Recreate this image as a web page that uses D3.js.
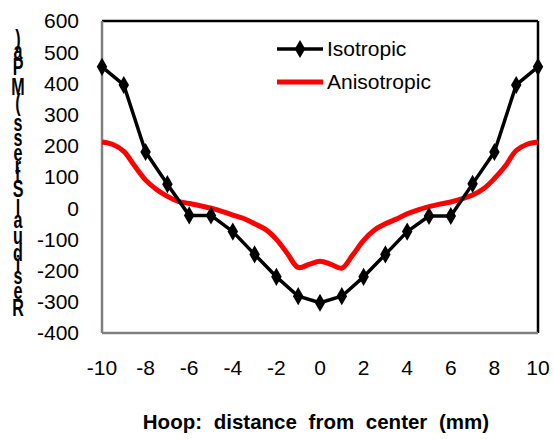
<!DOCTYPE html>
<html>
<head>
<meta charset="utf-8">
<script src="https://cdn.jsdelivr.net/npm/d3@7/dist/d3.min.js"></script>
<style>
  html, body { margin: 0; padding: 0; background: #fff; }
  text { font-family: "Liberation Sans", Arial, sans-serif; }
</style>
</head>
<body>
<div class="chart"></div>
<script>
// isotropic: measured points every 1 mm
const isoX = [-10, -9, -8, -7, -6, -5, -4, -3, -2, -1, 0, 1, 2, 3, 4, 5, 6, 7, 8, 9, 10];
const isoY = [453, 395, 180, 77, -23, -23, -75, -148, -220, -282, -303, -282, -220, -148, -75, -25, -25, 78, 180, 395, 453];

// anisotropic: smooth curve, read every 0.5 mm
const aniX = [-10, -9.5, -9, -8.5, -8, -7.5, -7, -6.5, -6, -5.5, -5, -4.5, -4, -3.5, -3, -2.5, -2, -1.5, -1, -0.5,
              0, 0.5, 1, 1.5, 2, 2.5, 3, 3.5, 4, 4.5, 5, 5.5, 6, 6.5, 7, 7.5, 8, 8.5, 9, 9.5, 10];
const aniY = [212, 204, 182, 135, 90, 60, 38, 22, 15, 8, 0, -10, -22, -33, -50, -68, -100, -145, -190, -180,
              -170, -180, -192, -150, -103, -70, -50, -35, -18, -5, 5, 13, 20, 30, 42, 62, 95, 135, 185, 205, 212];

const xTicks = [-10, -8, -6, -4, -2, 0, 2, 4, 6, 8, 10];
const yTicks = [-400, -300, -200, -100, 0, 100, 200, 300, 400, 500, 600];
const seriesNames = ["Isotropic", "Anisotropic"];
const xTitle = "Hoop: distance from center (mm)";
const yTitle = "Residual Stress (MPa)";

const W = 554, H = 439;
const m = { left: 102, right: 16, top: 21, bottom: 106 };

const svg = d3.select(".chart").append("svg")
    .attr("width", W)
    .attr("height", H);

const x = d3.scaleLinear().domain([-10, 10]).range([m.left, W - m.right]);
const y = d3.scaleLinear().domain([-400, 600]).range([H - m.bottom, m.top]);

// frame: top/right black, left/bottom gray
svg.append("line")
    .attr("x1", x(-10)).attr("x2", x(10))
    .attr("y1", y(600)).attr("y2", y(600))
    .attr("stroke", "#000").attr("stroke-width", 2.5);
svg.append("line")
    .attr("x1", x(10)).attr("x2", x(10))
    .attr("y1", y(600)).attr("y2", y(-400))
    .attr("stroke", "#000").attr("stroke-width", 2.5);
svg.append("line")
    .attr("x1", x(-10)).attr("x2", x(-10))
    .attr("y1", y(600)).attr("y2", y(-400))
    .attr("stroke", "#808080").attr("stroke-width", 2.5);
svg.append("line")
    .attr("x1", x(-10)).attr("x2", x(10))
    .attr("y1", y(-400)).attr("y2", y(-400))
    .attr("stroke", "#808080").attr("stroke-width", 2.5);

// tick labels
svg.append("g")
    .selectAll("text")
    .data(yTicks)
    .enter()
    .append("text")
    .attr("x", 79)
    .attr("y", d => y(d))
    .attr("dy", "0.35em")
    .attr("text-anchor", "end")
    .attr("font-size", 21)
    .text(d => d);

svg.append("g")
    .selectAll("text")
    .data(xTicks)
    .enter()
    .append("text")
    .attr("x", d => x(d))
    .attr("y", 375)
    .attr("text-anchor", "middle")
    .attr("font-size", 21)
    .text(d => d);

// x title
svg.append("text")
    .attr("x", 316)
    .attr("y", 429)
    .attr("text-anchor", "middle")
    .attr("font-size", 20.5)
    .attr("font-weight", "bold")
    .attr("word-spacing", 6)
    .text(xTitle);

// y title: upright glyphs stacked bottom to top, one text element
const meas = svg.append("text")
    .attr("font-size", 27)
    .attr("font-weight", "bold")
    .attr("visibility", "hidden");
let pos = 0;
const glyphs = yTitle.split("").map(ch => {
    meas.text(ch === " " ? "\u00a0" : ch);
    const w = meas.node().getComputedTextLength();
    const g = { ch: ch, c: pos + w / 2 };
    pos += w;
    return g;
}).filter(g => g.ch !== " ");
meas.remove();
const yBottom = 318;
svg.append("text")
    .attr("transform", "translate(18,0) scale(0.7,1)")
    .attr("x", glyphs.map(() => 0).join(" "))
    .attr("y", glyphs.map(g => (yBottom - g.c + 8).toFixed(1)).join(" "))
    .attr("text-anchor", "middle")
    .attr("font-size", 23)
    .attr("font-weight", "bold")
    .text(glyphs.map(g => g.ch).join(""));

// series
const iso = isoX.map((v, i) => [v, isoY[i]]);
const ani = aniX.map((v, i) => [v, aniY[i]]);

svg.append("path")
    .datum(ani)
    .attr("fill", "none")
    .attr("stroke", "#ff0000")
    .attr("stroke-width", 5)
    .attr("stroke-linejoin", "round")
    .attr("d", d3.line().x(d => x(d[0])).y(d => y(d[1])).curve(d3.curveCatmullRom.alpha(0.5)));

svg.append("path")
    .datum(iso)
    .attr("fill", "none")
    .attr("stroke", "#000")
    .attr("stroke-width", 3.5)
    .attr("stroke-linejoin", "round")
    .attr("d", d3.line().x(d => x(d[0])).y(d => y(d[1])));

const diamond = d3.symbol().type(d3.symbolDiamond).size(95);
svg.append("g")
    .selectAll("path")
    .data(iso)
    .enter()
    .append("path")
    .attr("transform", d => "translate(" + x(d[0]) + "," + y(d[1]) + ")")
    .attr("d", diamond)
    .attr("fill", "#000");

// legend
const legend = svg.append("g")
    .selectAll("g")
    .data(seriesNames)
    .enter()
    .append("g")
    .attr("transform", (d, i) => "translate(277," + (49 + i * 33) + ")");
legend.append("line")
    .attr("x1", 0).attr("x2", 46)
    .attr("stroke", (d, i) => i === 0 ? "#000" : "#ff0000")
    .attr("stroke-width", (d, i) => i === 0 ? 3.5 : 5);
legend.filter((d, i) => i === 0)
    .append("path")
    .attr("transform", "translate(23,0)")
    .attr("d", diamond)
    .attr("fill", "#000");
legend.append("text")
    .attr("x", 50)
    .attr("dy", "0.35em")
    .attr("font-size", 21)
    .text(d => d);
</script>
</body>
</html>
